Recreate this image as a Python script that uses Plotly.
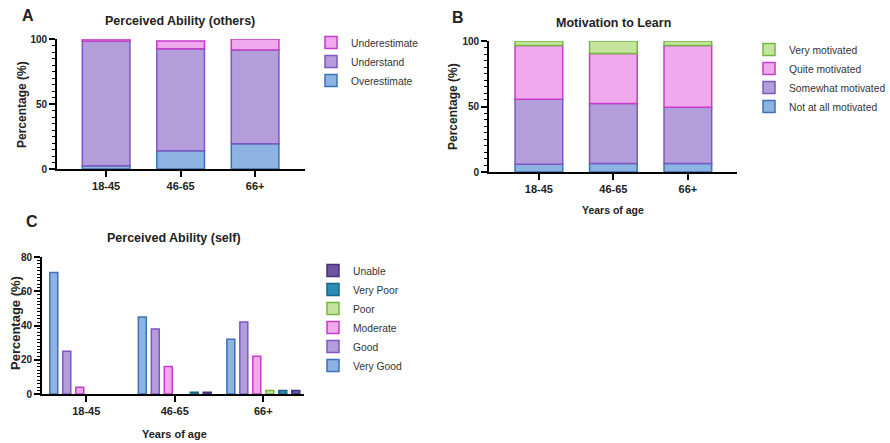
import numpy as np
import plotly.graph_objects as go

W, H = 890, 443

ages = ["18-45", "46-65", "66+"]

# Panel A: Perceived Ability (others)
a_series = ["Overestimate", "Understand", "Underestimate"]
a_over = [2.5, 14, 19.5]
a_under_stand = [96, 78.5, 72]
a_underest = [1.5, 6, 8.5]

# Panel B: Motivation to Learn
b_series = ["Not at all motivated", "Somewhat motivated", "Quite motivated", "Very motivated"]
b_not = [6, 6.5, 6.5]
b_some = [49.5, 45.7, 43]
b_quite = [41, 38.3, 47]
b_very = [3.5, 9.5, 3.5]

# Panel C: Perceived Ability (self)
c_series = ["Very Good", "Good", "Moderate", "Poor", "Very Poor", "Unable"]
c_very_good = [71, 45, 32]
c_good = [25, 38, 42]
c_moderate = [4, 16, 22]
c_poor = [0, 0, 2]
c_very_poor = [0, 1, 2]
c_unable = [0, 1, 2]

FONT = "Liberation Sans, Arial, Helvetica, sans-serif"

blue = ("#8DB3E2", "#3D72B8")
purple = ("#B39DDB", "#7E57C2")
pink = ("#F1A9EE", "#C53DC6")
green = ("#C6E49E", "#72B840")
teal = ("#2B8DB3", "#1B6587")
dark = ("#6E55A0", "#45307A")


def px_x(p):
    return p / W


def px_y(p):
    return 1 - p / H


fig = go.Figure()


def add_stack(series_names, values, colors, xa, ya, legend):
    base = np.zeros(len(ages))
    for name, vals, col in zip(series_names, values, colors):
        vals = np.array(vals, dtype=float)
        fig.add_trace(go.Bar(
            x=ages, y=vals, base=base.copy(), name=name,
            width=0.64,
            marker=dict(color=col[0], line=dict(color=col[1], width=1.5)),
            xaxis=xa, yaxis=ya, legend=legend, cliponaxis=False,
        ))
        base = base + vals


add_stack(a_series, [a_over, a_under_stand, a_underest], [blue, purple, pink], "x", "y", "legend")
add_stack(b_series, [b_not, b_some, b_quite, b_very], [blue, purple, pink, green], "x2", "y2", "legend2")

c_vals = [c_very_good, c_good, c_moderate, c_poor, c_very_poor, c_unable]
c_cols = [blue, purple, pink, green, teal, dark]
slot = 0.88 / 6
bw = 0.09
for i, (name, vals, col) in enumerate(zip(c_series, c_vals, c_cols)):
    shown = [v if v > 0 else None for v in vals]
    fig.add_trace(go.Bar(
        x=ages, y=shown, name=name,
        width=bw, offset=-0.44 + i * slot + (slot - bw) / 2,
        marker=dict(color=col[0], line=dict(color=col[1], width=1.5)),
        xaxis="x3", yaxis="y3", legend="legend3", cliponaxis=False,
    ))

xcommon = dict(
    type="category", showline=True, linecolor="black", linewidth=1.8,
    ticks="outside", ticklen=6, tickwidth=1.5, tickcolor="black",
    tickfont=dict(family=FONT, size=11, color="#222", weight="bold"),
    showgrid=False, zeroline=False, fixedrange=True,
)
ycommon = dict(
    showline=True, linecolor="black", linewidth=1.8,
    ticks="outside", ticklen=6, tickwidth=1.5, tickcolor="black",
    tickfont=dict(family=FONT, size=10, color="#222", weight="bold"),
    showgrid=False, zeroline=False, fixedrange=True, tick0=0,
)

legfont = dict(family=FONT, size=10.3, color="#333")

fig.update_layout(
    width=W, height=H,
    margin=dict(l=0, r=0, t=0, b=0, autoexpand=False),
    paper_bgcolor="white", plot_bgcolor="white",
    barmode="overlay",
    font=dict(family=FONT, color="#222"),
    xaxis=dict(xcommon, domain=[px_x(57), px_x(305)], range=[-0.66, 2.67], anchor="y"),
    yaxis=dict(ycommon, domain=[px_y(169), px_y(39)], range=[0, 100], dtick=50,
               minor=dict(dtick=5, tick0=0, ticklen=3, ticks="outside", tickcolor="black", tickwidth=1),
               anchor="x"),
    xaxis2=dict(xcommon, domain=[px_x(489), px_x(737)], range=[-0.67, 2.66], anchor="y2"),
    yaxis2=dict(ycommon, domain=[px_y(172), px_y(41)], range=[0, 100], dtick=50,
                minor=dict(dtick=5, tick0=0, ticklen=3, ticks="outside", tickcolor="black", tickwidth=1),
                anchor="x2"),
    xaxis3=dict(xcommon, domain=[px_x(42), px_x(304)], range=[-0.5, 2.46], anchor="y3"),
    yaxis3=dict(ycommon, domain=[px_y(394), px_y(257)], range=[0, 80], dtick=20,
                minor=dict(dtick=2, tick0=0, ticklen=3, ticks="outside", tickcolor="black", tickwidth=1),
                anchor="x3"),
    legend=dict(x=px_x(311), y=px_y(28), xanchor="left", yanchor="top", traceorder="reversed",
                font=legfont, itemwidth=30, bgcolor="rgba(0,0,0,0)"),
    legend2=dict(x=px_x(749), y=px_y(35), xanchor="left", yanchor="top", traceorder="reversed",
                 font=legfont, itemwidth=30, bgcolor="rgba(0,0,0,0)"),
    legend3=dict(x=px_x(313), y=px_y(256), xanchor="left", yanchor="top", traceorder="reversed",
                 font=legfont, itemwidth=30, bgcolor="rgba(0,0,0,0)"),
)


def ann(text, x, y, size, angle=0, bold=True):
    fig.add_annotation(
        text=f"<b>{text}</b>" if bold else text, x=px_x(x), y=px_y(y),
        xref="paper", yref="paper", showarrow=False, textangle=angle,
        xanchor="center", yanchor="middle",
        font=dict(family=FONT, size=size, color="#222"),
    )


ann("A", 28, 15, 16)
ann("B", 458, 18, 16)
ann("C", 32, 221, 16)
ann("Perceived Ability (others)", 180, 21, 12.5)
ann("Motivation to Learn", 613, 23, 12.5)
ann("Perceived Ability (self)", 174, 238, 12.5)
ann("Percentage (%)", 22, 105, 12, angle=-90)
ann("Percentage (%)", 453, 107, 12, angle=-90)
ann("Percentage (%)", 15, 323, 13, angle=-90)
ann("Years of age", 613, 210, 10.5)
ann("Years of age", 174, 434, 11)

fig.write_html(
    "out.html",
    config={"displayModeBar": False},
    post_script="document.body.style.margin='0px';document.body.style.overflow='hidden';",
)
